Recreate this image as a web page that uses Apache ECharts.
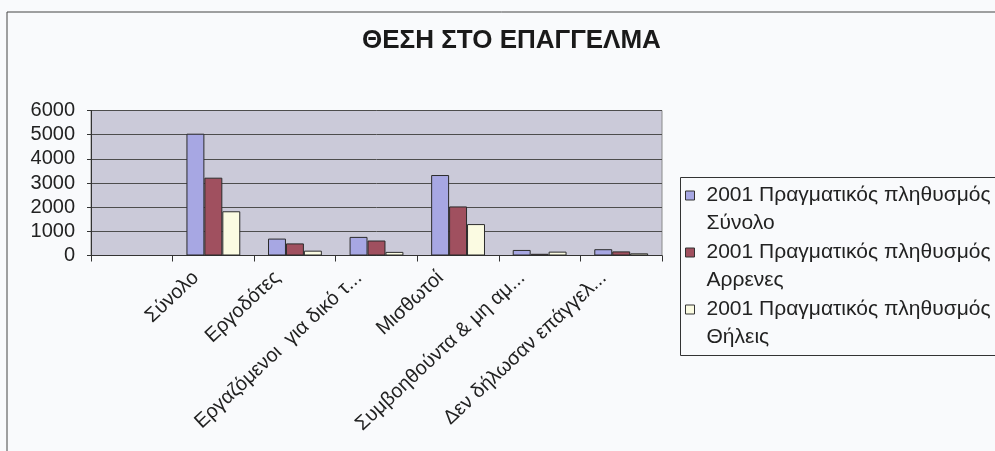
<!DOCTYPE html>
<html>
<head>
<meta charset="utf-8">
<title>ΘΕΣΗ ΣΤΟ ΕΠΑΓΓΕΛΜΑ</title>
<script src="https://cdn.jsdelivr.net/npm/echarts@6/dist/echarts.min.js"></script>
<style>
    html, body { margin: 0; padding: 0; background: #f9fafc; }
    #chart { width: 995px; height: 451px; }
</style>
</head>
<body>
<div id="chart"></div>
<script>
const categories = [
    '',
    'Σύνολο',
    'Εργοδότες',
    'Εργαζόμενοι  για δικό τ...',
    'Μισθωτοί',
    'Συμβοηθούντα & μη αμ...',
    'Δεν δήλωσαν επάγγελ...',
];
const seriesNames = [
    '2001 Πραγματικός πληθυσμός\nΣύνολο',
    '2001 Πραγματικός πληθυσμός\nΑρρενες',
    '2001 Πραγματικός πληθυσμός\nΘήλεις',
];
const totalValues = [null, 5040, 700, 770, 3330, 230, 260];
const maleValues = [null, 3220, 500, 620, 2030, 70, 170];
const femaleValues = [null, 1830, 200, 150, 1300, 160, 90];
const yTicks = [0, 1000, 2000, 3000, 4000, 5000, 6000];

const colors = ['#a7a7e3', '#a0505f', '#fbfbe2'];
const fontFamily = '"Liberation Sans", Arial, sans-serif';

// legend square sits on the first of the two text lines
const legendIcon = 'path://M0,0L0,0M0,9.5L9,9.5L9,18.5L0,18.5ZM0,56L0,56';

const chart = echarts.init(document.getElementById('chart'));

function barSeries(name, values, color) {
    return {
        name: name,
        type: 'bar',
        data: values,
        barGap: '0%',
        barCategoryGap: '34%',
        itemStyle: {
            color: color,
            borderColor: '#2b2b2b',
            borderWidth: 1,
        },
    };
}

const option = {
    backgroundColor: '#f9fafc',
    animation: false,
    title: {
        text: 'ΘΕΣΗ ΣΤΟ ΕΠΑΓΓΕΛΜΑ',
        left: 357,
        top: 23,
        textStyle: {
            fontFamily: fontFamily,
            fontWeight: 'bold',
            fontSize: 26,
            color: '#1a1a1a',
        },
    },
    legend: {
        orient: 'vertical',
        left: 680,
        top: 177,
        icon: legendIcon,
        itemWidth: 9,
        itemHeight: 56,
        itemGap: 0,
        padding: [4, 10, 6, 5],
        borderWidth: 0,
        itemStyle: { borderColor: '#333', borderWidth: 1 },
        textStyle: {
            fontFamily: fontFamily,
            fontSize: 21,
            color: '#222',
            lineHeight: 28,
            padding: [0, 0, 0, 7],
        },
        data: seriesNames,
    },
    grid: {
        left: 91,
        right: 333,
        top: 110.5,
        bottom: 195.5,
        show: true,
        backgroundColor: '#cbcad9',
        borderColor: '#8a8a8a',
        borderWidth: 1,
    },
    xAxis: {
        type: 'category',
        data: categories,
        axisLine: { lineStyle: { color: '#333', width: 1 } },
        axisTick: { show: true, length: 6, lineStyle: { color: '#333' } },
        axisLabel: {
            rotate: 43,
            interval: 0,
            margin: 3,
            padding: [0, 24, 0, 0],
            fontFamily: fontFamily,
            fontSize: 20,
            color: '#222',
        },
    },
    yAxis: {
        type: 'value',
        min: yTicks[0],
        max: yTicks[yTicks.length - 1],
        interval: 1000,
        axisLine: { show: true, lineStyle: { color: '#333', width: 1 } },
        axisTick: { show: true, length: 4, lineStyle: { color: '#333' } },
        axisLabel: {
            margin: 16,
            fontFamily: fontFamily,
            fontSize: 20,
            color: '#222',
            formatter: function (v) {
                return String(v);
            },
        },
        splitLine: { lineStyle: { color: '#4d4d4d', width: 1 } },
    },
    graphic: [
        {
            // outer chart frame, cut off at the right and bottom
            type: 'rect',
            shape: { x: 7, y: 12, width: 1100, height: 600 },
            style: { fill: 'none', stroke: '#444', lineWidth: 1 },
            silent: true,
            z: -1,
        },
        {
            // legend frame, runs past the right edge
            type: 'rect',
            shape: { x: 680.5, y: 177.5, width: 400, height: 178 },
            style: { fill: 'none', stroke: '#333', lineWidth: 1 },
            silent: true,
            z: -1,
        },
    ],
    series: [
        barSeries(seriesNames[0], totalValues, colors[0]),
        barSeries(seriesNames[1], maleValues, colors[1]),
        barSeries(seriesNames[2], femaleValues, colors[2]),
    ],
};

chart.setOption(option);
</script>
</body>
</html>
